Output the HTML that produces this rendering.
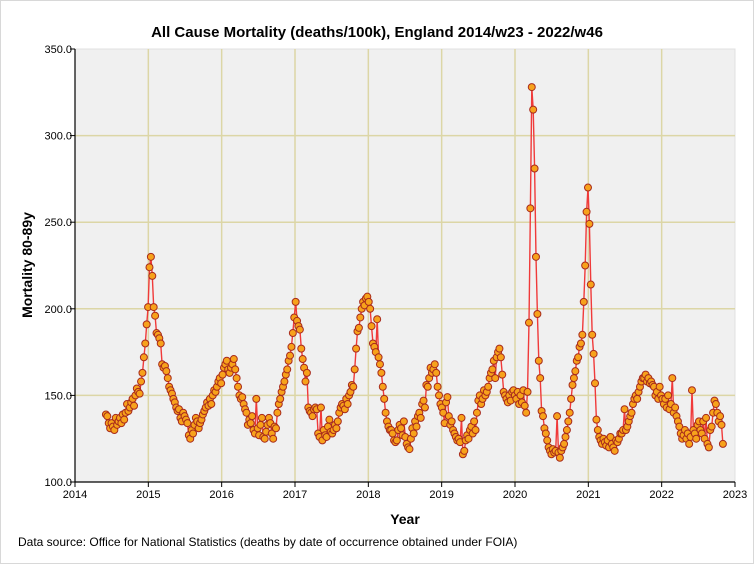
<!DOCTYPE html>
<html><head><meta charset="utf-8"><style>
html,body{margin:0;padding:0;background:#fff;}
svg{display:block;font-family:"Liberation Sans",Arial,sans-serif;}
</style></head><body>
<svg id="chart" width="754" height="564">
<rect x="0.5" y="0.5" width="753" height="563" fill="#fff" stroke="#d8d8d8"/>
<text x="377" y="37" text-anchor="middle" font-size="15" font-weight="bold" fill="#000">All Cause Mortality (deaths/100k), England 2014/w23 - 2022/w46</text>
<rect x="75" y="49" width="660" height="433" fill="#f0f0f0" stroke="#e0e0e0"/>
<g id="grid"></g><g id="axes"></g><g id="series"></g>
<text x="405" y="524" text-anchor="middle" font-size="14" font-weight="bold">Year</text>
<text transform="translate(32,265) rotate(-90)" text-anchor="middle" font-size="14" font-weight="bold">Mortality 80-89y</text>
<text x="18" y="546" font-size="12" fill="#000">Data source: Office for National Statistics (deaths by date of occurrence obtained under FOIA)</text>
</svg>
<script>
const yTicks=[100,150,200,250,300,350];
const xTicks=[2014,2015,2016,2017,2018,2019,2020,2021,2022,2023];
const startYear=2014, startWeek=23;
const y2014=[139,138,134,131,134,132,130,137,133,135,137,134,139,136,140,145,141,143,146,148,144,150,154,152,151,158,163,172,180,191];
const y2015=[201,224,230,219,201,196,186,185,183,180,168,166,167,164,160,155,153,151,148,146,143,141,142,137,135,140,138,136,134,127,125,130,128,133,137,135,131,134,136,139,141,143,146,144,148,145,150,153,152,155,158,160];
const y2016=[157,162,166,168,170,165,163,166,168,171,165,160,155,150,148,149,145,142,140,133,136,134,138,130,128,148,131,127,133,137,126,125,129,133,137,134,128,125,132,131,140,145,148,152,155,158,162,165,170,173,178,186];
const y2017=[195,204,193,190,188,177,171,166,158,163,143,141,140,138,142,143,142,128,126,143,124,130,127,126,132,136,129,128,130,133,131,135,140,143,145,144,142,148,145,150,152,156,155,165,177,187,189,195,200,204,202,206];
const y2018=[207,204,200,190,180,178,175,194,172,168,163,155,148,140,135,132,130,130,128,124,123,124,130,133,131,127,135,126,122,120,119,125,131,128,135,132,138,140,137,145,147,143,156,155,160,166,163,165,168,163,155,150];
const y2019=[145,143,140,134,146,149,138,133,135,130,128,126,124,125,123,137,116,118,124,127,125,130,132,128,135,130,140,147,150,145,148,153,150,152,155,160,163,165,170,160,172,175,177,172,162,152,150,148,146,150,147,152];
const y2020=[153,150,148,152,145,150,146,153,144,140,152,192,258,328,315,281,230,197,170,160,141,138,131,128,124,120,118,116,119,117,118,138,117,114,118,120,122,126,130,135,140,148,156,160,164,170,172,178,180,185,204,225];
const y2021=[256,270,249,214,185,174,157,136,130,126,124,122,125,123,121,124,120,126,122,120,118,124,123,125,128,128,130,142,130,132,135,138,140,145,148,150,148,152,155,158,160,160,162,158,160,157,158,156,155,150,152,148];
const y2022=[155,150,148,145,148,143,150,142,145,160,140,143,138,135,132,128,125,127,130,125,128,122,126,153,130,128,125,133,135,130,128,135,125,137,122,120,130,132,140,147,145,140,135,138,133,122];
const values=[].concat(y2014,y2015,y2016,y2017,y2018,y2019,y2020,y2021,y2022);
const NS="http://www.w3.org/2000/svg";
const X0=75,X1=735,Y0=482,Y1=49;
function xs(t){return X0+(t-2014)/(2023-2014)*(X1-X0);}
function ys(v){return Y0-(v-100)/(350-100)*(Y0-Y1);}
function mk(tag,a,p){const e=document.createElementNS(NS,tag);for(const k in a)e.setAttribute(k,a[k]);p.appendChild(e);return e;}
const grid=document.getElementById('grid'),axes=document.getElementById('axes'),ser=document.getElementById('series');
yTicks.forEach(v=>{
  if(v>100&&v<350){const l=mk('line',{x1:X0,x2:X1,y1:ys(v),y2:ys(v),stroke:'#dcd6a6','stroke-width':1.5},grid);
  
  }
  const tk=mk('line',{x1:X0-5,x2:X0,y1:ys(v),y2:ys(v),stroke:'#000'},axes);
  
  
  const t=mk('text',{x:X0-3,y:ys(v)+4,'text-anchor':'end','font-size':11},axes);t.textContent=v.toFixed(1);
  
  
});
xTicks.forEach(v=>{
  if(v>2014&&v<2023){const l=mk('line',{x1:xs(v),x2:xs(v),y1:Y1,y2:Y0,stroke:'#dcd6a6','stroke-width':1.5},grid);
  
  }
  const tk=mk('line',{x1:xs(v),x2:xs(v),y1:Y0,y2:Y0+5,stroke:'#000'},axes);
  
  
  const t=mk('text',{x:xs(v),y:Y0+16,'text-anchor':'middle','font-size':11},axes);t.textContent=v;
  
  
});
const ax=mk('path',{d:`M${X0},${Y1}V${Y0}H${X1}`,fill:'none',stroke:'#000','stroke-width':1.2},axes);


const t0=startYear+(startWeek-1)*7/365.25;
const pts=values.map((v,i)=>[xs(t0+i*7/365.25),ys(v)]);
const line=mk('polyline',{points:pts.map(p=>p[0].toFixed(1)+','+p[1].toFixed(1)).join(' '),fill:'none',stroke:'#f03a3a','stroke-width':1.4},ser);


pts.forEach(p=>{
  const c=mk('circle',{cx:p[0],cy:p[1],r:3.5,fill:'#f7a21b',stroke:'#a82a1c','stroke-width':1},ser);
  
  
});
</script>
</body></html>
